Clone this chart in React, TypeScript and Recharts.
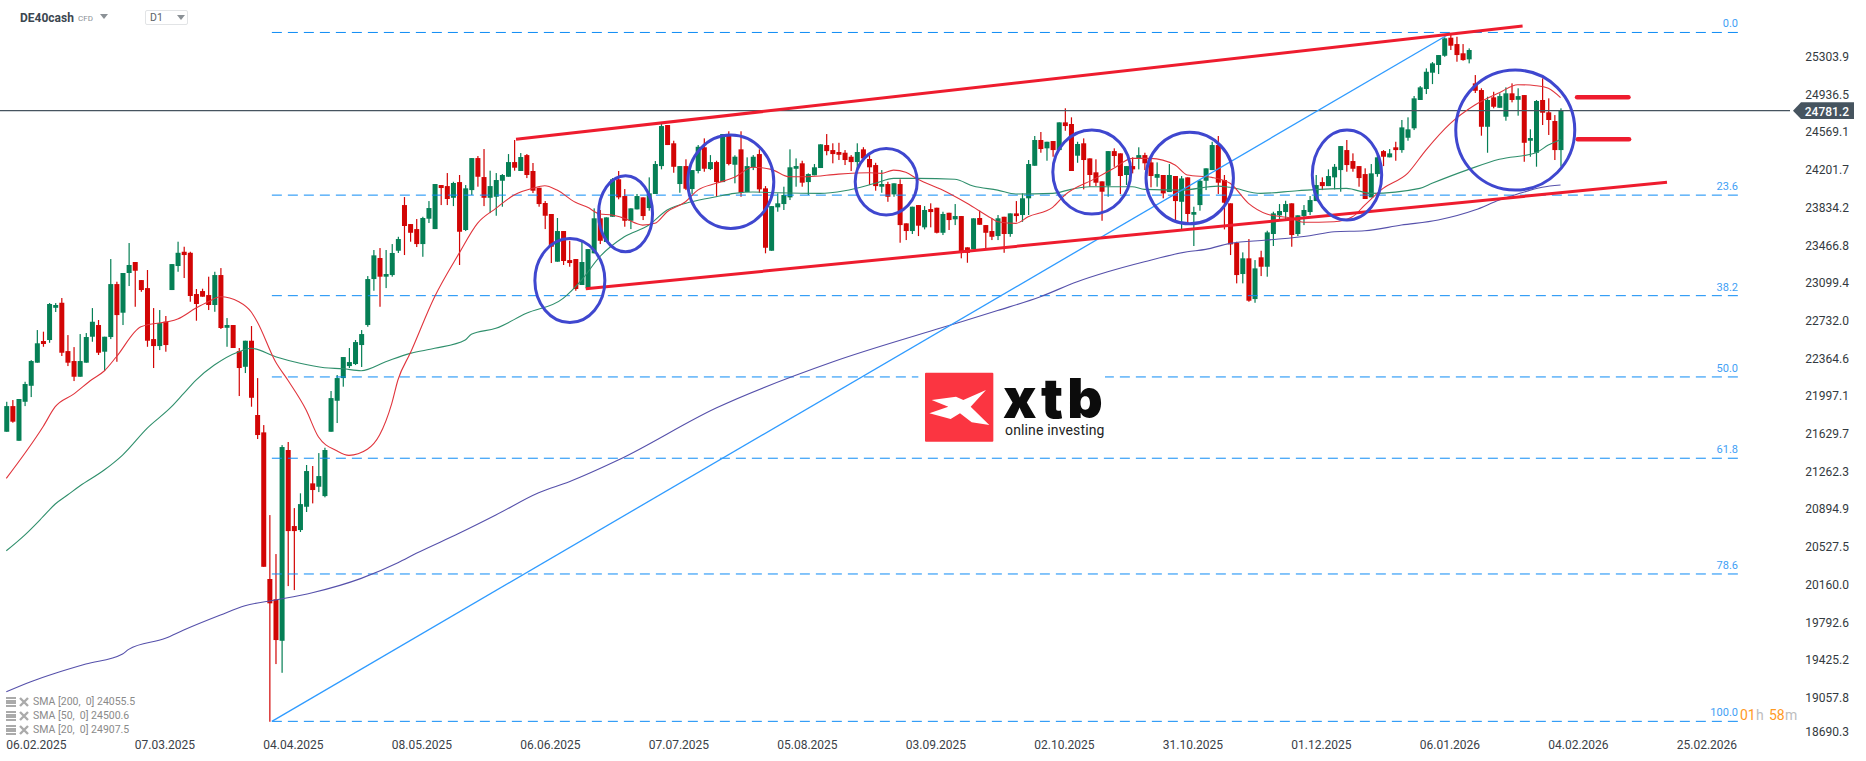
import React from "react";
import { ComposedChart, Bar, Line, XAxis, YAxis, ReferenceLine, ReferenceDot } from "recharts";

const opens = [
  21652,21902,21564,21944,22100,22325,22536,22546,22860,22909,
  22438,22341,22188,22325,22578,22692,22432,22575,23091,22812,
  23199,23306,23130,23052,22555,22487,22724,23033,23267,23406,
  23396,22994,23023,22984,22887,23179,22665,22692,22438,22285,
  22539,21815,21646,20217,20019,19615,21474,20733,20694,20921,
  21149,21116,21025,21652,21954,22175,22292,22312,22497,22692,
  23140,23345,23163,23179,23416,23861,23676,23627,23481,23728,
  23627,24056,24046,23932,24085,23618,24007,24319,24134,23932,
  23942,24098,24137,24280,24193,24348,24193,24030,23881,23774,
  23309,23608,23325,23335,23082,23050,23391,23732,23501,23747,
  24112,23949,23708,23819,23936,23832,23969,24241,24641,24463,
  24066,24241,24017,24193,24424,24212,24280,24085,24543,24254,
  24404,23988,24229,24358,24024,23416,23839,23871,23936,24215,
  24268,24085,24151,24222,24446,24397,24378,24371,24332,24280,
  24404,24310,24251,24040,24066,23965,24066,23683,23608,23861,
  23644,23822,23835,23591,23786,23722,23754,23449,23430,23735,
  23666,23608,23559,23747,23579,23780,23764,23927,24244,24495,
  24414,24485,24397,24667,24651,24342,24463,24316,24180,24092,
  24049,24387,24365,24154,24241,24316,24348,24277,24127,24154,
  23988,24144,23893,24131,23767,23861,24098,24202,24446,24105,
  23878,23494,23189,23342,22945,23352,23260,23579,23761,23793,
  23878,23579,23754,23793,23900,24085,24046,24131,24202,24397,
  24290,24241,24163,23936,24163,24387,24326,24424,24397,24517,
  24609,24885,24992,25151,25226,25316,25492,25430,25340,25281,
  25047,24982,24624,24911,24809,24722,24950,24887,24933,24488,
  24371,24885,24765,24680,24397,
];
const highs = [
  21944,21961,21971,22139,22350,22643,22627,22906,22906,22955,
  22594,22477,22604,22614,22857,22741,22578,23335,23114,23199,
  23491,23306,23130,23228,22857,22838,22780,23286,23504,23455,
  23406,23043,23046,23163,23211,23247,22760,22692,22468,22539,
  22682,22175,21717,20840,20460,21522,21552,20908,21052,21328,
  21318,21444,21496,22049,22205,22380,22468,22546,22643,23169,
  23423,23442,23423,23481,23552,23939,23676,23725,23747,23900,
  24066,24056,24173,24088,24154,24056,24319,24339,24407,24196,
  24173,24163,24358,24495,24368,24358,24271,24030,23900,23774,
  23735,23608,23513,23335,23504,23432,23829,23813,23741,24124,
  24193,24017,23829,23969,23936,24131,24290,24651,24641,24488,
  24241,24307,24202,24446,24511,24348,24293,24553,24580,24346,
  24580,24326,24348,24404,24046,23851,23975,24040,24404,24316,
  24293,24170,24261,24453,24553,24463,24468,24397,24348,24463,
  24425,24348,24273,24202,24088,24073,24112,23683,23845,23861,
  23851,23878,23835,23796,23786,23871,23754,23449,23732,23806,
  23666,23732,23764,23747,23780,23900,23975,24300,24534,24573,
  24478,24485,24667,24804,24716,24478,24511,24316,24307,24092,
  24387,24414,24365,24241,24326,24424,24371,24316,24277,24154,
  24261,24144,24144,24131,23845,24112,24219,24478,24534,24154,
  23878,23504,23400,23530,23325,23416,23611,23796,23871,23903,
  23878,23761,23861,23949,24154,24131,24209,24261,24436,24495,
  24365,24241,24219,24261,24348,24397,24407,24478,24690,24716,
  24924,25021,25193,25255,25323,25496,25534,25501,25430,25388,
  25128,24999,24917,24965,24950,25008,25047,24999,24933,24599,
  24885,25096,24901,24738,24804,
];
const lows = [
  21652,21740,21564,21902,21990,22325,22480,22519,22819,22390,
  22292,22146,22188,22325,22529,22400,22244,22555,22334,22692,
  23072,22870,23016,22480,22273,22448,22432,23033,23211,23150,
  22919,22734,22968,22838,22821,22653,22480,22468,22000,22224,
  21896,21581,20336,18826,19388,19303,20148,20109,20675,20870,
  20954,21064,21013,21652,21737,22091,22273,22302,22283,22675,
  23026,22870,23052,23163,23394,23374,23504,23452,23357,23686,
  23627,23861,23861,23851,23277,23608,23959,24040,23851,23783,
  23757,23845,24137,24196,24193,24124,23978,23845,23627,23296,
  23309,23277,23260,23026,23082,23050,23391,23481,23501,23747,
  23917,23650,23627,23819,23715,23806,23969,24209,24446,24176,
  23981,24007,23969,24170,24186,24202,23942,24085,24248,24073,
  23942,23988,24202,23981,23391,23416,23796,23813,23910,24040,
  24040,23959,24151,24222,24346,24268,24300,24251,24193,24202,
  24290,24056,24001,23981,23893,23942,23494,23520,23579,23559,
  23624,23644,23585,23569,23618,23666,23342,23299,23430,23669,
  23439,23520,23520,23396,23552,23698,23698,23764,24244,24371,
  24293,24332,24397,24585,24193,24273,24014,24040,24046,23708,
  23942,24234,23969,24056,24170,24209,24202,24034,24040,23927,
  23988,23689,23624,23689,23462,23806,24007,24202,23969,23624,
  23374,23098,23098,22919,22909,23169,23163,23462,23722,23722,
  23455,23559,23666,23764,23900,24007,24046,24014,23991,24186,
  24186,24040,23920,23936,24137,24241,24326,24293,24371,24488,
  24592,24885,24943,25040,25138,25306,25372,25258,25268,25242,
  24953,24537,24371,24804,24809,24683,24862,24732,24283,24332,
  24235,24641,24544,24300,24235,
];
const closes = [
  21902,21750,21971,22117,22341,22514,22507,22897,22887,22422,
  22325,22188,22341,22575,22724,22422,22578,23091,22789,23199,
  23277,23221,23033,22539,22487,22711,22497,23286,23396,23374,
  22975,22897,22968,22887,23179,22663,22692,22468,22273,22539,
  21983,21620,20336,19980,19622,21503,20684,20684,20947,21269,
  21084,21220,21474,21980,22175,22380,22331,22526,22604,23140,
  23371,23163,23189,23394,23530,23657,23591,23481,23735,23832,
  24066,24027,23920,24076,23601,24024,24319,24137,23932,24046,
  24105,24154,24280,24225,24329,24154,24001,23871,23757,23455,
  23608,23316,23296,23043,23306,23432,23732,23513,23741,24112,
  23936,23708,23829,23949,23754,23975,24261,24631,24446,24234,
  24241,24020,24202,24429,24215,24280,24085,24553,24261,24332,
  23981,24241,24332,24014,23445,23851,23878,23959,24229,24241,
  24079,24163,24229,24453,24387,24358,24351,24300,24280,24378,
  24316,24229,24046,24066,23942,24073,23666,23608,23845,23660,
  23813,23793,23591,23774,23715,23754,23413,23396,23732,23669,
  23591,23552,23732,23579,23780,23754,23927,24261,24495,24407,
  24478,24397,24667,24631,24193,24456,24300,24154,24079,23991,
  24387,24339,24144,24241,24209,24348,24268,24144,24163,23975,
  24154,23900,24121,23774,23793,24098,24219,24446,24079,23884,
  23478,23179,23342,22929,23244,23260,23595,23780,23803,23871,
  23569,23761,23813,23910,24056,24046,24144,24234,24436,24251,
  24215,24124,23920,24170,24326,24332,24365,24397,24618,24599,
  24901,25008,25160,25242,25323,25486,25414,25323,25274,25372,
  24975,24624,24885,24819,24923,24950,24885,24923,24468,24514,
  24875,24761,24690,24397,24781,
];

const sma20Points: [number, number][] = [
  [0,21198],[6,21701],[8,21896],[11,22019],[14,22161],[16,22244],[18,22383],[22,22675],[28,22750],[31,22857],
  [33,22919],[35,22968],[38,22919],[40,22821],[41,22724],[44,22334],[46,22156],[49,21864],[51,21603],[54,21467],
  [56,21422],[59,21481],[61,21620],[63,21929],[64,22156],[66,22416],[70,22968],[74,23391],[77,23683],[80,23829],
  [83,23959],[86,24024],[88,24049],[90,24007],[93,23888],[95,23839],[97,23774],[99,23764],[101,23732],[104,23666],
  [106,23683],[108,23796],[111,23893],[113,24007],[116,24073],[119,24131],[122,24229],[125,24209],[128,24137],[131,24137],
  [136,24163],[141,24176],[143,24170],[145,24202],[147,24180],[149,24112],[153,24007],[157,23878],[161,23732],[162,23699],
  [165,23683],[167,23747],[171,23839],[173,23959],[178,24121],[181,24219],[184,24316],[187,24316],[191,24251],[193,24154],
  [197,24131],[200,24073],[203,23878],[206,23774],[210,23732],[212,23693],[217,23699],[220,23747],[222,23861],[225,24024],
  [229,24170],[232,24397],[236,24657],[240,24836],[244,24956],[247,25034],[250,25024],[252,24999],[254,24908],
];
const sma50Points: [number, number][] = [
  [0,20492],[3,20645],[6,20824],[8,20948],[10,21035],[12,21123],[16,21279],[19,21425],[23,21685],[27,21896],
  [29,22026],[31,22156],[34,22302],[38,22432],[40,22465],[44,22383],[48,22319],[52,22276],[55,22266],[58,22247],
  [62,22334],[66,22416],[70,22465],[75,22546],[76,22601],[80,22660],[85,22806],[91,22952],[94,23130],[97,23358],
  [101,23552],[105,23666],[108,23813],[112,23893],[116,23942],[119,23975],[122,23988],[126,23981],[133,23975],[137,24001],
  [142,24073],[145,24121],[149,24121],[155,24112],[158,24046],[162,24007],[165,23969],[171,23975],[174,24014],[177,24040],
  [184,24040],[186,24014],[192,24007],[198,24046],[200,24034],[205,23975],[211,24001],[219,24024],[223,23975],[231,24024],
  [233,24073],[239,24209],[244,24307],[250,24371],[252,24446],[254,24501],
];
const sma200Points: [number, number][] = [
  [0,19118],[4,19216],[8,19298],[13,19388],[19,19486],[20,19531],[26,19639],[29,19720],[35,19866],[39,19957],
  [44,20012],[50,20083],[58,20223],[64,20375],[67,20467],[74,20662],[80,20840],[87,21058],[92,21165],[100,21376],
  [116,21883],[135,22331],[152,22650],[162,22833],[169,22968],[175,23114],[180,23211],[186,23309],[193,23406],[196,23429],
  [200,23488],[206,23520],[213,23562],[217,23601],[222,23611],[228,23666],[234,23715],[240,23812],[244,23910],[247,23969],
  [251,24034],[254,24056],
];

const yTicks = [25303.9,24936.5,24569.1,24201.7,23834.2,23466.8,23099.4,22732.0,22364.6,21997.1,21629.7,21262.3,20894.9,20527.5,20160.0,19792.6,19425.2,19057.8,18690.3];
const lastPrice = 24781.2;
const dateLabels = ["06.02.2025","07.03.2025","04.04.2025","08.05.2025","06.06.2025","07.07.2025","05.08.2025","03.09.2025","02.10.2025","31.10.2025","01.12.2025","06.01.2026","04.02.2026","25.02.2026"];
const dateTicks = [0,21,42,63,84,105,126,147,168,189,210,231,252,273];

const fibNames = ["0.0","23.6","38.2","50.0","61.8","78.6","100.0"];
const fibPrices = [25543,23958,22978,22186,21394,20266,18830];
const fibStartIndex = 43.4;
const fibEndIndex = 283.6;
const fibLabelIndex = 283;

const upperChannel = [{ x: 83.3, y: 24502 }, { x: 247.8, y: 25606 }];
const lowerChannel = [{ x: 94.7, y: 23046 }, { x: 271.4, y: 24083 }];
const fibTrend = [{ x: 43.4, y: 18830 }, { x: 236, y: 25535 }];
const targetA = [{ x: 256.7, y: 24911 }, { x: 265.1, y: 24911 }];
const targetB = [{ x: 256.8, y: 24502 }, { x: 265.2, y: 24502 }];

const circleCentres = [
  { i: 92.1, p: 23125, rx: 35, ry: 42 },
  { i: 101.2, p: 23776, rx: 27, ry: 38 },
  { i: 118.4, p: 24088, rx: 43, ry: 46.7 },
  { i: 143.8, p: 24088, rx: 31, ry: 33.3 },
  { i: 177.4, p: 24183, rx: 39, ry: 42 },
  { i: 193.4, p: 24125, rx: 43.7, ry: 45.8 },
  { i: 219.1, p: 24154, rx: 34.7, ry: 45 },
  { i: 246.6, p: 24592, rx: 59.5, ry: 60 },
];
const smaLegend = ["SMA [200,  0] 24055.5", "SMA [50,  0] 24500.6", "SMA [20,  0] 24907.5"];

const rows = opens.map((o, i) => ({ i, o, h: highs[i], l: lows[i], c: closes[i] }));
const toSeries = (pts: [number, number][]) => pts.map(([i, v]) => ({ i, v }));

const UP = "#057f55";
const DOWN = "#d20505";
const FONT = "Roboto, sans-serif";

const Candle = (props: any) => {
  const { x, y, width, height, payload } = props;
  const { o, h, l, c } = payload;
  const k = height / Math.max(h - l, 1);
  const fill = c >= o ? UP : DOWN;
  const top = y + (h - Math.max(o, c)) * k;
  const bh = Math.max(Math.abs(o - c) * k, 1);
  return (
    <g>
      <rect x={x + width / 2 - 0.6} y={y} width={1.2} height={height} fill={fill} />
      <rect x={x} y={top} width={width} height={bh} fill={fill} />
    </g>
  );
};

const YTick = (props: any) => {
  const { y, payload } = props;
  const v = payload.value;
  if (v === lastPrice) {
    return (
      <g>
        <polygon points={`1793,${y} 1801,${y - 8.3} 1854,${y - 8.3} 1854,${y + 8.3} 1801,${y + 8.3}`} fill="#46545f" />
        <text x={1849} y={y + 5} textAnchor="end" fontFamily={FONT} fontSize={12} fontWeight={500} fill="#fff">{v.toFixed(1)}</text>
      </g>
    );
  }
  const shift = v === 18690.3 ? -4 : 0;
  return (
    <text x={1849} y={y + 4 + shift} textAnchor="end" fontFamily={FONT} fontSize={12} fill="#333a40">{v.toFixed(1)}</text>
  );
};

const XTick = (props: any) => {
  const { x, payload, index } = props;
  return (
    <text x={x} y={749} textAnchor="start" fontFamily={FONT} fontSize={12} fill="#3a4148">{dateLabels[dateTicks.indexOf(payload.value)] ?? dateLabels[index]}</text>
  );
};

const Ellipse = (rx: number, ry: number) => (props: any) => (
  <ellipse cx={props.cx} cy={props.cy} rx={rx} ry={ry} fill="none" stroke="#3f47cf" strokeWidth={3} />
);
const FibLabel = (text: string) => (props: any) => (
  <text x={props.cx} y={props.cy - 5} textAnchor="end" fontFamily={FONT} fontSize={11} fill="#3fa0f5">{text}</text>
);

const SmaIcon = () => (
  <svg width={24} height={11} style={{ marginRight: 3 }}>
    <rect x={0} y={0} width={10} height={2} fill="#aaa" />
    <rect x={0} y={3} width={10} height={4} fill="#aaa" />
    <rect x={0} y={8} width={10} height={2} fill="#aaa" />
    <path d="M14 1 L22 9 M22 1 L14 9" stroke="#aaa" strokeWidth={2.4} />
  </svg>
);

const abs = (left: number, top: number, extra: React.CSSProperties = {}): React.CSSProperties => ({
  position: "absolute", left, top, fontFamily: FONT, whiteSpace: "pre", lineHeight: 1, ...extra,
});

export default function App() {
  return (
    <div style={{ position: "absolute", left: 0, top: 0, width: 1866, height: 761, background: "#fff", overflow: "hidden" }}>
      <ComposedChart width={1866} height={761} data={rows} margin={{ top: 0, right: 0, bottom: 0, left: 0 }}>
        <XAxis
          dataKey="i" type="number" domain={[-1.03, 291.5]} allowDataOverflow
          ticks={dateTicks} interval={0} axisLine={false} tickLine={false} height={24} tick={<XTick />}
        />
        <YAxis
          orientation="right" type="number" domain={[18677.3, 25859.4]} allowDataOverflow
          ticks={[...yTicks, lastPrice]} interval={0} axisLine={false} tickLine={false} width={76} tick={<YTick />}
        />
        {fibPrices.map((p, k) => (
          <ReferenceLine key={fibNames[k]} segment={[{ x: fibStartIndex, y: p }, { x: fibEndIndex, y: p }]} stroke="#0d8bf5" strokeWidth={1} strokeDasharray="10 6" />
        ))}
        <ReferenceLine y={lastPrice} stroke="#46545f" strokeWidth={1.2} />
        <Bar dataKey={(d: any) => [d.l, d.h]} barSize={5} shape={<Candle />} activeBar={false} isAnimationActive={false} />
        <Line data={toSeries(sma200Points)} dataKey="v" name="SMA200" type="monotone" stroke="#5651ab" strokeWidth={1.1} dot={false} activeDot={false} isAnimationActive={false} />
        <Line data={toSeries(sma50Points)} dataKey="v" name="SMA50" type="monotone" stroke="#2f8f6c" strokeWidth={1.1} dot={false} activeDot={false} isAnimationActive={false} />
        <Line data={toSeries(sma20Points)} dataKey="v" name="SMA20" type="monotone" stroke="#e0343c" strokeWidth={1.1} dot={false} activeDot={false} isAnimationActive={false} />
        <ReferenceLine segment={fibTrend} stroke="#2f9bff" strokeWidth={1.3} />
        <ReferenceLine segment={upperChannel} stroke="#ee1c2e" strokeWidth={3} />
        <ReferenceLine segment={lowerChannel} stroke="#ee1c2e" strokeWidth={3} />
        <ReferenceLine segment={targetA} stroke="#ee1c2e" strokeWidth={4.5} strokeLinecap="round" />
        <ReferenceLine segment={targetB} stroke="#ee1c2e" strokeWidth={4.5} strokeLinecap="round" />
        {circleCentres.map((e) => (
          <ReferenceDot key={e.i} x={e.i} y={e.p} r={1} shape={Ellipse(e.rx, e.ry)} />
        ))}
        {fibPrices.map((p, k) => (
          <ReferenceDot key={fibNames[k]} x={fibLabelIndex} y={p} r={1} shape={FibLabel(fibNames[k])} />
        ))}
      </ComposedChart>

      <div style={abs(20, 12, { fontSize: 12, fontWeight: 700, color: "#3b4650" })}>DE40cash</div>
      <div style={abs(78, 15, { fontSize: 8, color: "#8b9196" })}>CFD</div>
      <svg style={{ position: "absolute", left: 100, top: 14 }} width={10} height={6}><path d="M0 0 H8 L4 5 Z" fill="#8b9196" /></svg>
      <div style={{ position: "absolute", left: 145, top: 10, width: 43, height: 15, border: "1px solid #e2e4e6", borderRadius: 2, boxSizing: "border-box" }} />
      <div style={abs(150, 13, { fontSize: 10.5, color: "#5c6369" })}>D1</div>
      <svg style={{ position: "absolute", left: 177, top: 15 }} width={10} height={6}><path d="M0 0 H8 L4 5 Z" fill="#8b9196" /></svg>

      {smaLegend.map((t, k) => (
        <div key={t} style={abs(6, 697 + k * 14, { fontSize: 10.5, color: "#8a8a8a", display: "flex", alignItems: "center" })}>
          <SmaIcon />
          <span>{t}</span>
        </div>
      ))}

      <div style={abs(1740, 708, { fontSize: 14, color: "#ff9a1f" })}>01</div>
      <div style={abs(1756, 708, { fontSize: 14, color: "#bdbdbd" })}>h</div>
      <div style={abs(1769, 708, { fontSize: 14, color: "#ff9a1f" })}>58</div>
      <div style={abs(1785, 708, { fontSize: 14, color: "#bdbdbd" })}>m</div>

      <svg style={{ position: "absolute", left: 880, top: 350 }} width={260} height={120} viewBox="0 0 780 360">
        <rect x={115} y={60} width={560} height={230} fill="#fff" />
        <rect x={135} y={68} width={205} height={207} rx={3} fill="#fb3541" />
        <polygon points="155,150 228,140 250,150 318,120 272,170 328,225 275,217 240,190 212,207 148,190 205,170" fill="#fff" />
      </svg>
      <div style={abs(1003, 371, { fontFamily: "Inter, Roboto, sans-serif", fontSize: 55, fontWeight: 900, color: "#0c0c0c", letterSpacing: 4 })}>xtb</div>
      <div style={abs(1005, 423, { fontSize: 14, color: "#222", letterSpacing: 0.15 })}>online investing</div>
    </div>
  );
}
